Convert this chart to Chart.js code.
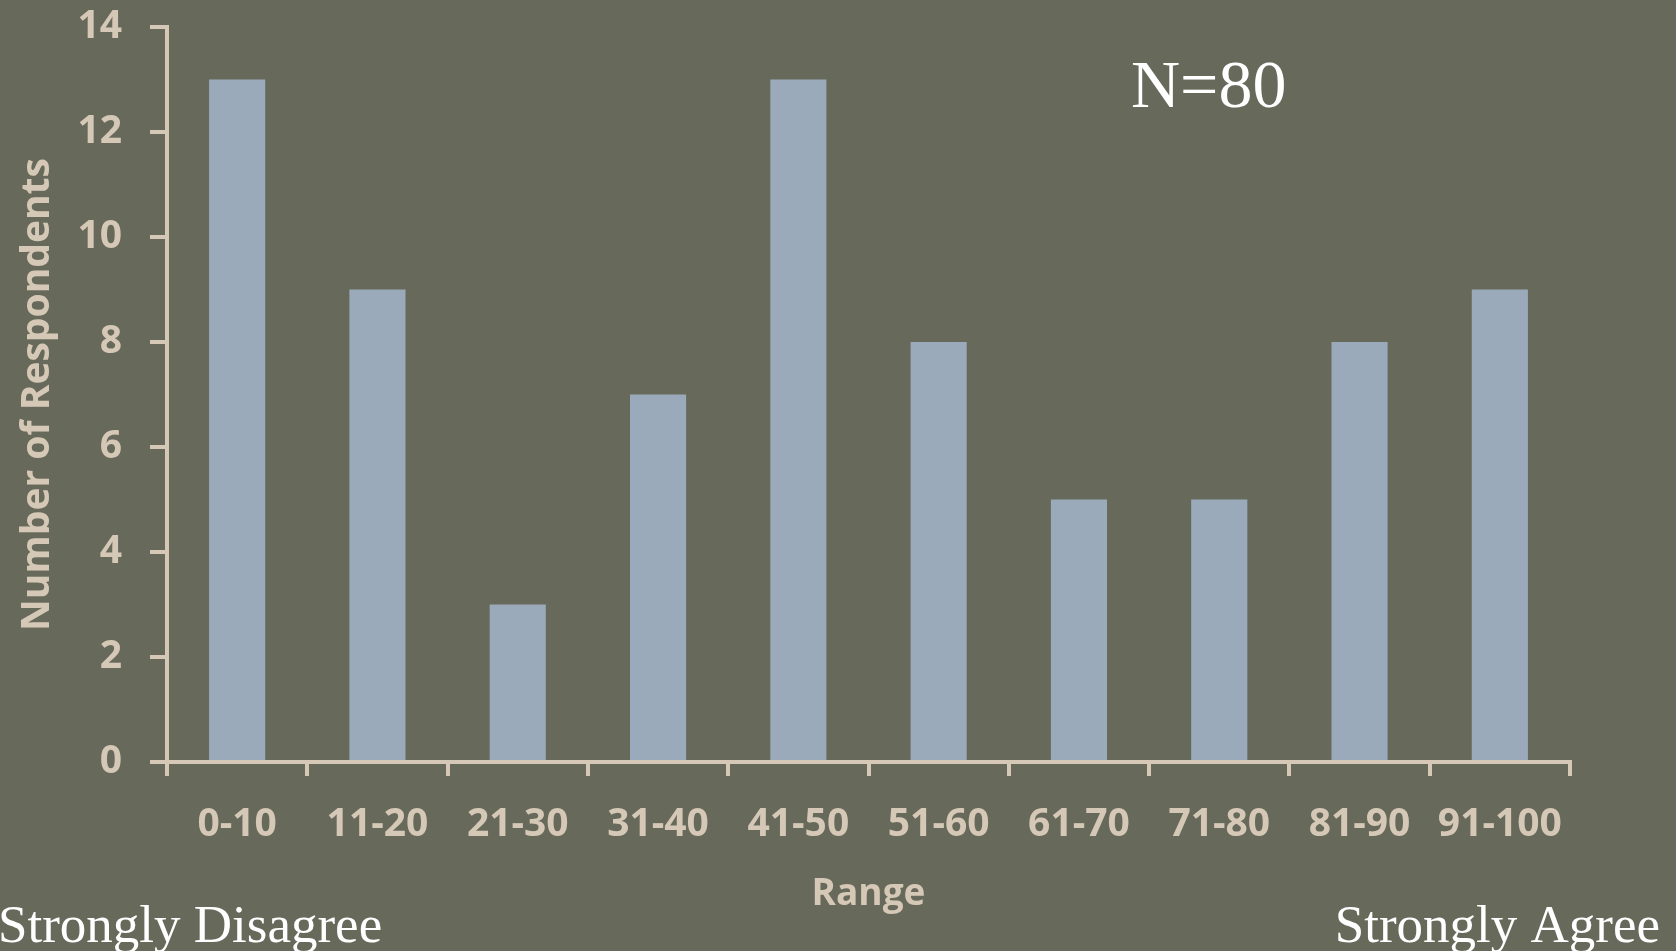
<!DOCTYPE html>
<html>
<head>
<meta charset="utf-8">
<title>Number of Respondents by Range</title>
<script src="https://cdn.jsdelivr.net/npm/chart.js@4.4.1/dist/chart.umd.min.js"></script>
<style>
  html, body { margin: 0; padding: 0; background: #676a5b; overflow: hidden; }
  #wrap { position: relative; width: 1676px; height: 951px; }
</style>
</head>
<body>
<div id="wrap"><canvas id="rangeChart"></canvas></div>
<script>
// chart data
const ranges = ['0-10', '11-20', '21-30', '31-40', '41-50', '51-60', '61-70', '71-80', '81-90', '91-100'];
const respondents = [13, 9, 3, 7, 13, 8, 5, 5, 8, 9];
const yTicks = [0, 2, 4, 6, 8, 10, 12, 14];

const tan = '#d6c8b6';
const barColor = '#9aaabb';

// slide texts drawn on the canvas
const slideText = {
  id: 'slideText',
  afterDraw(chart) {
    const ctx = chart.ctx;
    ctx.save();
    ctx.fillStyle = '#ffffff';
    ctx.textBaseline = 'alphabetic';
    ctx.textAlign = 'left';
    ctx.font = '68px "Liberation Serif"';
    ctx.fillText('N=80', 1131, 107);
    ctx.font = '53px "Liberation Serif"';
    ctx.fillText('Strongly Disagree', -2, 942);
    ctx.textAlign = 'right';
    ctx.fillText('Strongly Agree', 1660, 942);
    ctx.restore();
  }
};

document.addEventListener('DOMContentLoaded', function () {
  const ctx = document.getElementById('rangeChart').getContext('2d');
  new Chart(ctx, {
    type: 'bar',
    data: {
      labels: ranges,
      datasets: [{
        data: respondents,
        backgroundColor: barColor,
        borderWidth: 0,
        barPercentage: 0.4,
        categoryPercentage: 1
      }]
    },
    options: {
      responsive: true,
      maintainAspectRatio: false,
      animation: false,
      layout: { padding: { top: 27, right: 106, left: 0, bottom: 0 } },
      plugins: {
        legend: { display: false },
        tooltip: { enabled: false }
      },
      scales: {
        x: {
          afterFit: function (scale) {
            scale.height = 189;
            scale.paddingTop = 0;
            scale.paddingBottom = 0;
          },
          grid: {
            offset: true,
            drawOnChartArea: false,
            color: tan,
            lineWidth: 4,
            tickLength: 14
          },
          border: { color: tan, width: 4 },
          ticks: {
            color: tan,
            padding: 25,
            font: { family: 'Open Sans', weight: 'bold', size: 39 }
          },
          title: {
            display: true,
            text: 'Range',
            color: tan,
            font: { family: 'Open Sans', weight: 'bold', size: 37 },
            padding: { top: 0, bottom: 34 }
          }
        },
        y: {
          min: 0,
          max: 14,
          afterFit: function (scale) {
            scale.width = 167;
            scale.paddingTop = 0;
            scale.paddingBottom = 0;
          },
          afterBuildTicks: function (scale) {
            scale.ticks = yTicks.map(v => ({ value: v }));
          },
          grid: {
            drawOnChartArea: false,
            color: tan,
            lineWidth: 4,
            tickLength: 17
          },
          border: { color: tan, width: 4 },
          ticks: {
            color: tan,
            padding: 28,
            font: { family: 'Open Sans', weight: 'bold', size: 39 }
          },
          title: {
            display: true,
            text: 'Number of Respondents',
            color: tan,
            font: { family: 'Open Sans', weight: 'bold', size: 39 },
            padding: { top: 14, bottom: 0 }
          }
        }
      }
    },
    plugins: [slideText]
  });
});
</script>
</body>
</html>
